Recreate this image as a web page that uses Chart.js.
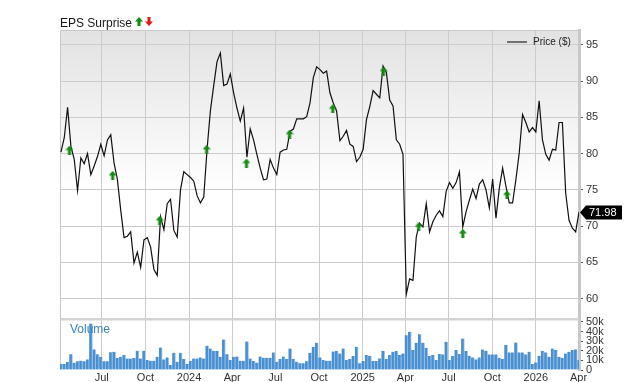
<!DOCTYPE html>
<html>
<head>
<meta charset="utf-8">
<script src="https://cdn.jsdelivr.net/npm/chart.js@4.4.1/dist/chart.umd.min.js"></script>
<style>
  html, body { margin: 0; padding: 0; background: #fff; }
</style>
</head>
<body>
<canvas id="chart" width="640" height="382"></canvas>
<script>
// weekly closes, first week starts 2023-04-06
const firstWeek = '2023-04-06';
const prices = [
  80.2, 82.2, 86.4, 81.0, 79.2, 74.9, 79.4, 78.6, 80.0, 77.1, 78.3, 79.6, 81.3, 79.7, 81.9, 82.6,
  78.7, 76.4, 72.2, 68.4, 68.6, 69.2, 64.9, 66.4, 64.3, 68.1, 68.4, 67.1, 64.0, 63.2, 71.3,
  69.5, 73.1, 73.7, 69.4, 68.5, 75.0, 77.5, 77.1, 76.7, 76.2, 74.2, 73.2, 74.0, 80.6, 85.9, 89.4,
  92.7, 93.9, 89.4, 89.6, 91.0, 88.4, 86.3, 84.5, 86.3, 79.5, 83.4, 81.9, 79.9, 78.0, 76.4, 76.5,
  79.2, 78.0, 77.1, 80.2, 80.5, 80.6, 83.1, 83.4, 84.8, 84.8, 84.8, 85.1, 87.0, 90.5, 92.0, 91.6,
  91.1, 91.4, 88.4, 87.0, 85.9, 81.8, 82.4, 83.2, 81.3, 81.0, 78.9, 79.5, 80.6, 84.7, 86.5,
  88.7, 88.2, 87.7, 92.1, 91.2, 87.4, 86.6, 81.9, 81.3, 79.9, 60.6, 62.7, 62.5, 68.5, 70.4, 69.9,
  73.1, 69.2, 70.6, 71.5, 72.1, 71.3, 74.8, 76.0, 75.2, 76.0, 77.5, 69.9, 72.0, 73.6, 75.1,
  73.8, 75.8, 76.4, 75.0, 72.5, 76.5, 71.1, 75.2, 78.0, 75.5, 73.2, 73.2, 76.4, 80.1, 85.4, 84.3,
  83.0, 83.6, 83.0, 87.3, 81.9, 79.9, 79.1, 80.6, 80.5, 84.3, 84.3, 74.5, 70.8, 69.7, 69.2, 71.98
];
// weekly volume, thousands of shares
const volumes = [
  6.2, 6.2, 8.3, 16.5, 7.6, 9, 9.7, 9, 11, 48.3, 21.4, 16.5, 13.8, 9, 9, 18.6, 19, 12.4, 13.8, 15.5,
  12, 12, 12.4, 20, 12, 20, 10.3, 9.7, 9.7, 13.8, 23.4, 11, 13.1, 5.2, 17.9, 8.6, 17.9, 11.4, 6.2, 9.3,
  12, 12, 13.1, 12, 25.2, 22.4, 20, 20, 13.8, 31.7, 16.5, 10.3, 13.8, 14.1, 9.7, 9.7, 29.7, 12, 9.3, 7.6,
  14.1, 12.8, 12.8, 12.8, 18.3, 8.6, 11.4, 14.1, 11.4, 22.4, 11.4, 8.6, 6.9, 6.9, 9, 17.9, 24.1, 28.3,
  13.1, 10.3, 9.7, 9.7, 19.3, 19.7, 17.2, 22.4, 10.3, 11.4, 14.5, 24.1, 6.9, 9.3, 15.5, 14.8, 9.3, 9.3,
  12.1, 20, 11.4, 15.5, 19, 19.7, 15.5, 17.2, 36.2, 39.7, 20.7, 28.3, 37.2, 28.3, 23.1, 14.5, 15.5, 10.3,
  16.6, 16.2, 29.3, 10.3, 14.5, 20.7, 16.6, 32.8, 19.7, 14.8, 13.1, 11, 13.1, 21.4, 20, 16.2, 16.2, 16.2,
  12.8, 11.4, 25.9, 18.3, 18.3, 28.6, 18.3, 18.3, 16.2, 19, 6.2, 7.9, 14.8, 20, 18.3, 13.8, 22.4, 20.7,
  13.8, 12.8, 17.2, 19, 20.7, 21.4, 10.3
];
// EPS surprise markers (all beats)
const epsDates = ['2023-04-24', '2023-07-24', '2023-10-31', '2024-02-07', '2024-05-01', '2024-07-31',
                  '2024-10-30', '2025-02-14', '2025-04-29', '2025-07-31', '2025-11-01'];
const epsLevels = [80.5, 77.0, 70.8, 80.6, 78.7, 82.7, 86.2, 91.4, 69.9, 69.0, 74.3];

const tickDates = ['2023-07-01', '2023-10-01', '2024-01-01', '2024-04-01', '2024-07-01', '2024-10-01',
                   '2025-01-01', '2025-04-01', '2025-07-01', '2025-10-01', '2026-01-01', '2026-04-01'];
const tickLabels = ['Jul', 'Oct', '2024', 'Apr', 'Jul', 'Oct', '2025', 'Apr', 'Jul', 'Oct', '2026', 'Apr'];
const priceTicks = [60, 65, 70, 75, 80, 85, 90, 95];
const volumeTicks = [0, 10, 20, 30, 40, 50];

const FONT = "'Liberation Sans', Arial, sans-serif";
const day = s => Date.parse(s) / 864e5;
const weeks = prices.map((p, i) => day(firstWeek) + 7 * i);

function arrowIcon(color, up) {
  const c = document.createElement('canvas');
  c.width = 8; c.height = 9;
  const g = c.getContext('2d');
  g.fillStyle = color;
  g.beginPath();
  if (up) {
    g.moveTo(4, 0); g.lineTo(8, 4.5); g.lineTo(5.5, 4.5); g.lineTo(5.5, 9);
    g.lineTo(2.5, 9); g.lineTo(2.5, 4.5); g.lineTo(0, 4.5);
  } else {
    g.moveTo(4, 9); g.lineTo(8, 4.5); g.lineTo(5.5, 4.5); g.lineTo(5.5, 0);
    g.lineTo(2.5, 0); g.lineTo(2.5, 4.5); g.lineTo(0, 4.5);
  }
  g.closePath();
  g.fill();
  return c;
}
const greenUp = arrowIcon('#148a14', true);
const redDown = arrowIcon('#e8141c', false);

const panels = {
  id: 'panels',
  beforeDraw(chart) {
    const { ctx, chartArea: a, scales: { y, v } } = chart;
    ctx.save();
    const g = ctx.createLinearGradient(0, y.top, 0, y.bottom);
    g.addColorStop(0, '#e2e2e2');
    g.addColorStop(0.55, '#ffffff');
    g.addColorStop(1, '#ffffff');
    ctx.fillStyle = g;
    ctx.fillRect(a.left, y.top, a.width, y.height);
    ctx.fillStyle = '#ffffff';
    ctx.fillRect(a.left, v.top, a.width, v.height);
    ctx.restore();
  },
  beforeDatasetsDraw(chart) {
    const { ctx, chartArea: a, scales: { v } } = chart;
    ctx.save();
    ctx.fillStyle = '#d4d4d4';
    ctx.fillRect(a.left, v.top - 1, a.width, 2.5);
    ctx.strokeStyle = '#c8c8c8';
    ctx.lineWidth = 1;
    ctx.beginPath();
    ctx.moveTo(a.left + 0.5, a.bottom);
    ctx.lineTo(a.left + 0.5, a.top + 0.5);
    ctx.lineTo(a.right, a.top + 0.5);
    ctx.stroke();
    ctx.restore();
  },
  afterDraw(chart) {
    const { ctx, chartArea: a, scales: { y } } = chart;
    ctx.save();
    // title
    ctx.fillStyle = '#1a1a1a';
    ctx.font = '12px ' + FONT;
    ctx.textBaseline = 'alphabetic';
    ctx.fillText('EPS Surprise', 60, 27);
    ctx.drawImage(greenUp, 135, 17);
    ctx.drawImage(redDown, 145, 17);
    // legend
    ctx.strokeStyle = '#707070';
    ctx.lineWidth = 2;
    ctx.beginPath();
    ctx.moveTo(507, 42); ctx.lineTo(527, 42);
    ctx.stroke();
    ctx.fillStyle = '#222';
    ctx.font = '10px ' + FONT;
    ctx.textBaseline = 'middle';
    ctx.fillText('Price ($)', 533, 42);
    // volume label
    ctx.fillStyle = '#3a84c4';
    ctx.font = '12px ' + FONT;
    ctx.fillText('Volume', 70, 330);
    // last price tag
    const last = prices[prices.length - 1];
    const py = Math.round(y.getPixelForValue(last)) + 0.5;
    const x0 = a.right + 1;
    ctx.fillStyle = '#000';
    ctx.beginPath();
    ctx.moveTo(x0, py);
    ctx.lineTo(x0 + 6, py - 7);
    ctx.lineTo(x0 + 42, py - 7);
    ctx.lineTo(x0 + 42, py + 7);
    ctx.lineTo(x0 + 6, py + 7);
    ctx.closePath();
    ctx.fill();
    ctx.fillStyle = '#fff';
    ctx.font = '11px ' + FONT;
    ctx.fillText(last.toFixed(2), x0 + 9, py + 0.5);
    ctx.restore();
  }
};

const ctx = document.getElementById('chart');
const chart = new Chart(ctx, {
  data: {
    datasets: [
      {
        type: 'scatter',
        label: 'EPS Surprise',
        data: epsDates.map((d, i) => ({ x: day(d), y: epsLevels[i] })),
        yAxisID: 'y',
        pointStyle: greenUp,
        pointRadius: 4
      },
      {
        type: 'line',
        label: 'Price ($)',
        data: weeks.map((w, i) => ({ x: w, y: prices[i] })),
        yAxisID: 'y',
        borderColor: '#111',
        borderWidth: 1.2,
        pointRadius: 0,
        tension: 0
      },
      {
        type: 'bar',
        label: 'Volume',
        data: weeks.map((w, i) => ({ x: w, y: volumes[i] })),
        yAxisID: 'v',
        backgroundColor: '#4a8fd0',
        borderColor: '#a9cdee',
        borderWidth: { left: 0, top: 0, bottom: 0, right: 1 },
        barPercentage: 1,
        categoryPercentage: 1
      }
    ]
  },
  options: {
    responsive: false,
    animation: false,
    devicePixelRatio: 1,
    layout: { padding: { left: 60, top: 30, right: 0, bottom: 0 } },
    plugins: {
      legend: { display: false },
      tooltip: { enabled: false }
    },
    scales: {
      x: {
        type: 'linear',
        offset: false,
        min: day('2023-04-04'),
        max: day('2026-04-02'),
        afterBuildTicks: s => { s.ticks = tickDates.map(d => ({ value: day(d) })); },
        afterFit: s => { s.height = 12; },
        grid: { color: '#cccccc', drawTicks: false, offset: false },
        border: { display: false },
        ticks: {
          autoSkip: false,
          maxRotation: 0,
          padding: 1,
          color: '#333',
          font: { family: FONT, size: 11 },
          callback: (val, i) => tickLabels[i]
        }
      },
      y: {
        position: 'right',
        stack: 'panels',
        stackWeight: 289,
        min: 57.17,
        max: 97.07,
        afterBuildTicks: s => { s.ticks = priceTicks.map(t => ({ value: t })); },
        afterFit: s => { s.width = 61; },
        grid: { color: '#cccccc', tickLength: 4, tickColor: '#555' },
        border: { color: '#c8c8c8', width: 3 },
        ticks: { autoSkip: false, padding: 3, color: '#333', font: { family: FONT, size: 11 } }
      },
      v: {
        position: 'right',
        stack: 'panels',
        stackWeight: 51,
        min: 0,
        max: 53.1,
        afterBuildTicks: s => { s.ticks = volumeTicks.map(t => ({ value: t })); },
        afterFit: s => { s.width = 61; },
        grid: { drawOnChartArea: false, tickLength: 4, tickColor: '#555' },
        border: { color: '#c8c8c8', width: 3 },
        ticks: {
          autoSkip: false,
          padding: 3,
          color: '#333',
          font: { family: FONT, size: 11 },
          callback: val => val === 0 ? '0' : val + 'k'
        }
      }
    }
  },
  plugins: [panels]
});
</script>
</body>
</html>
